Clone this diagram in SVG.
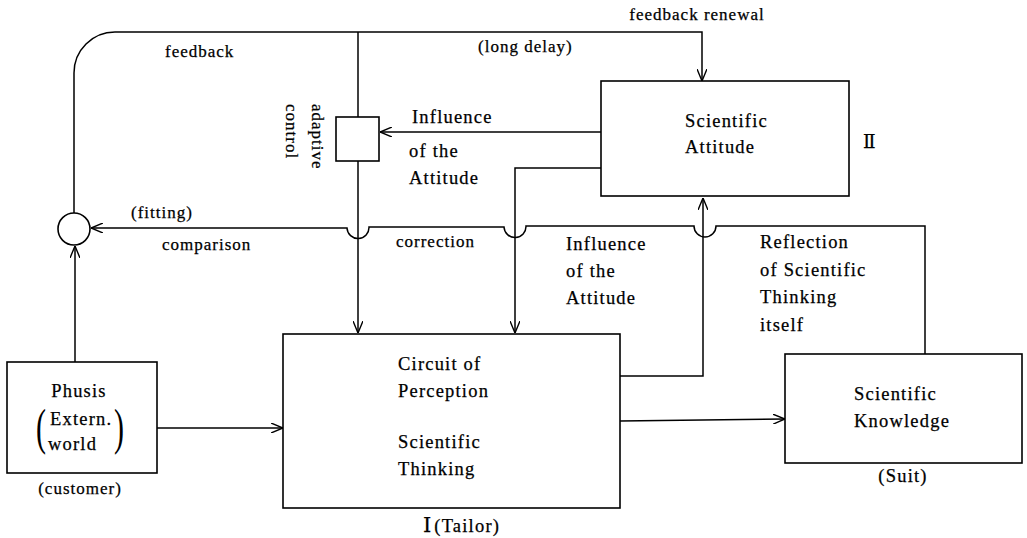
<svg xmlns="http://www.w3.org/2000/svg" width="1027" height="538" viewBox="0 0 1027 538">
<style>
  .box{fill:none;stroke:#000;stroke-width:1.6}
  .ln{fill:none;stroke:#000;stroke-width:1.5}
  text{font-family:"Liberation Serif","DejaVu Serif",serif;font-size:18.5px;fill:#000;letter-spacing:1.2px;stroke:#000;stroke-width:0.25}
  .sm{font-size:17px;letter-spacing:1px}
  .mid{text-anchor:middle}
  .rn{font-family:"DejaVu Serif","Noto Sans CJK JP",serif;letter-spacing:0}
  .par{font-size:50px;letter-spacing:0;stroke-width:0}
</style>
<defs>
  <marker id="arr" viewBox="0 0 12 10" refX="12" refY="5" markerWidth="12" markerHeight="10" markerUnits="userSpaceOnUse" orient="auto">
    <path d="M0,0 L12,5 L0,10" fill="none" stroke="#000" stroke-width="1.4"/>
  </marker>
</defs>
<rect width="1027" height="538" fill="#fff"/>

<g id="connectors">
  <path class="ln" d="M74,213 V73 A41,41 0 0 1 115,32 H702 V81" marker-end="url(#arr)"/>
  <path class="ln" d="M358,32 V117"/>
  <path class="ln" d="M358,161 V333" marker-end="url(#arr)"/>
  <path class="ln" d="M601,132 H380" marker-end="url(#arr)"/>
  <path class="ln" d="M601,168 H515 V333" marker-end="url(#arr)"/>
  <path class="ln" d="M925,354 V226 H716 A11,11 0 0 1 694,226 H526 A11,11 0 0 1 504,227 H369 A11,11 0 0 1 347,228 H91" marker-end="url(#arr)"/>
  <path class="ln" d="M620,376 H703 V198" marker-end="url(#arr)"/>
  <path class="ln" d="M75,362 V246" marker-end="url(#arr)"/>
  <path class="ln" d="M157,428 H283" marker-end="url(#arr)"/>
  <path class="ln" d="M620,421 L785,419" marker-end="url(#arr)"/>

  <text class="sm mid" x="697" y="20">feedback renewal</text>
  <text class="sm" x="165" y="57">feedback</text>
  <text class="sm" x="478" y="52">(long delay)</text>
  <text class="sm" transform="translate(312,104) rotate(90)">adaptive</text>
  <text class="sm" transform="translate(286,104) rotate(90)">control</text>
  <text x="412" y="123">Influence</text>
  <text x="409" y="157">of the</text>
  <text x="409" y="184">Attitude</text>
  <text class="sm" x="131" y="218">(fitting)</text>
  <text class="sm" x="162" y="250">comparison</text>
  <text class="sm" x="396" y="247">correction</text>
  <text x="566" y="250">Influence</text>
  <text x="566" y="277">of the</text>
  <text x="566" y="304">Attitude</text>
  <text x="760" y="248">Reflection</text>
  <text x="760" y="276">of Scientific</text>
  <text x="760" y="303">Thinking</text>
  <text x="760" y="331">itself</text>
</g>

<g id="comparator">
  <circle cx="74" cy="229" r="16" class="box"/>
</g>

<g id="adaptive-control">
  <rect class="box" x="336" y="117" width="43" height="44"/>
</g>

<g id="scientific-attitude">
  <rect class="box" x="601" y="81" width="248" height="115"/>
  <text x="685" y="127">Scientific</text>
  <text x="685" y="153">Attitude</text>
  <text class="rn" x="863" y="148" font-size="26">Ⅱ</text>
</g>

<g id="phusis">
  <rect class="box" x="7" y="362" width="150" height="111"/>
  <text class="mid" x="79" y="397">Phusis</text>
  <text x="50" y="425">Extern.</text>
  <text x="48" y="450">world</text>
  <text class="par" transform="translate(36,444) scale(0.6,1)">(</text>
  <text class="par" transform="translate(114,444) scale(0.6,1)">)</text>
  <text class="mid sm" x="80" y="494">(customer)</text>
</g>

<g id="circuit">
  <rect class="box" x="283" y="334" width="337" height="174"/>
  <text x="398" y="370">Circuit of</text>
  <text x="398" y="397">Perception</text>
  <text x="398" y="448">Scientific</text>
  <text x="398" y="475">Thinking</text>
  <text x="423" y="532"><tspan class="rn" font-size="21">Ⅰ</tspan><tspan dx="3">(Tailor)</tspan></text>
</g>

<g id="scientific-knowledge">
  <rect class="box" x="785" y="354" width="237" height="109"/>
  <text x="854" y="400">Scientific</text>
  <text x="854" y="427">Knowledge</text>
  <text class="mid" x="903" y="482">(Suit)</text>
</g>
</svg>
